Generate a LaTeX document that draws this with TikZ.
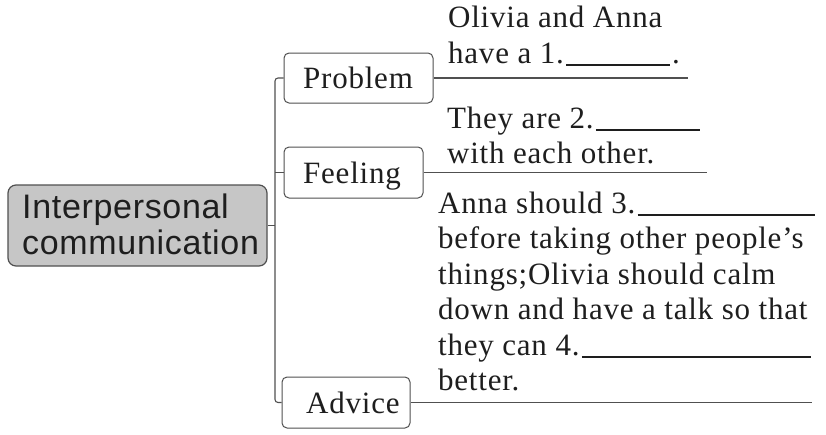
\documentclass[tikz,border=0pt]{standalone}
\usepackage{fontspec}
\setmainfont{Liberation Serif}[LetterSpace=2.5]
\newfontfamily\rootfont{Liberation Sans}[LetterSpace=2]
\definecolor{ink}{HTML}{1E1E1E}
\definecolor{linec}{HTML}{505050}
\definecolor{rootfill}{HTML}{C6C6C6}
\begin{document}
\begin{tikzpicture}[x=1pt,y=-1pt,
  conn/.style={draw=linec,line width=1.1pt},
  ul/.style={draw=ink,line width=1.1pt},
  catbox/.style={draw=linec,line width=1pt,rounded corners=5pt,fill=white,
    inner sep=0pt,text=ink,font=\fontsize{31}{35}\selectfont},
  rootbox/.style={draw=linec,line width=1.2pt,rounded corners=8pt,fill=rootfill,
    inner sep=0pt,minimum width=259pt,minimum height=81pt},
  txt/.style={anchor=base west,inner sep=0pt,text=ink,font=\fontsize{31}{35}\selectfont},
  roottxt/.style={anchor=base west,inner sep=0pt,text=ink,font=\rootfont\fontsize{34}{36}\selectfont}
]
\useasboundingbox (0,0) rectangle (826,434);
% root
\node[rootbox] (R) at (137.5,225.5) {};
\node[roottxt] (R1) at (22,218) {Interpersonal};
\node[roottxt] (R2) at (22,254) {communication};
% category boxes
\node[catbox,minimum width=149pt,minimum height=50pt] (P) at (358.5,78) {};
\node[txt] (Pt) at (303,88) {Problem};
\node[catbox,minimum width=139pt,minimum height=51pt] (F) at (353.5,172.5) {};
\node[txt] (Ft) at (303,183) {Feeling};
\node[catbox,minimum width=128pt,minimum height=51pt] (A) at (346,402.5) {};
\node[txt] (At) at (306,413) {Advice};
% trunk
\coordinate (tr) at (275,0);
\draw[conn,rounded corners=3pt] (P.west) -| (tr |- A.west) -- (A.west);
\draw[conn] (F.west) -- (F.west -| tr);
\draw[conn] (R.east) -- (R.east -| tr);
% branch lines
\coordinate (Pe) at (688,0);
\coordinate (Fe) at (707,0);
\coordinate (Ae) at (812,0);
\draw[conn] (P.east) -- (P.east -| Pe);
\draw[conn] (F.east) -- (F.east -| Fe);
\draw[conn] (A.east) -- (A.east -| Ae);
% problem text
\node[txt] (p1) at (448,27) {Olivia and Anna};
\node[txt] (p2) at (448,63) {have a 1.};
\node[txt] (p2b) at (672,63) {.};
\draw[ul] ([xshift=2pt,yshift=-2pt]p2.base east) -- ([xshift=-2pt,yshift=-2pt]p2b.base west);
% feeling text
\node[txt] (f1) at (447,128) {They are 2.};
\coordinate (f1e) at (700,0);
\draw[ul] ([xshift=2pt,yshift=-2pt]f1.base east) -- ([yshift=-2pt]f1.base east -| f1e);
\node[txt] (f2) at (447,163) {with each other.};
% advice text
\node[txt] (a1) at (438,213) {Anna should 3.};
\coordinate (a1e) at (815,0);
\draw[ul] ([xshift=2pt,yshift=-2pt]a1.base east) -- ([yshift=-2pt]a1.base east -| a1e);
\node[txt] (a2) at (438,248.5) {before taking other people’s};
\node[txt] (a3) at (438,284) {things;Olivia should calm};
\node[txt] (a4) at (438,319.5) {down and have a talk so that};
\node[txt] (a5) at (438,355) {they can 4.};
\coordinate (a5e) at (811,0);
\draw[ul] ([xshift=2pt,yshift=-2pt]a5.base east) -- ([yshift=-2pt]a5.base east -| a5e);
\node[txt] (a6) at (438,390.5) {better.};
\end{tikzpicture}
\end{document}
